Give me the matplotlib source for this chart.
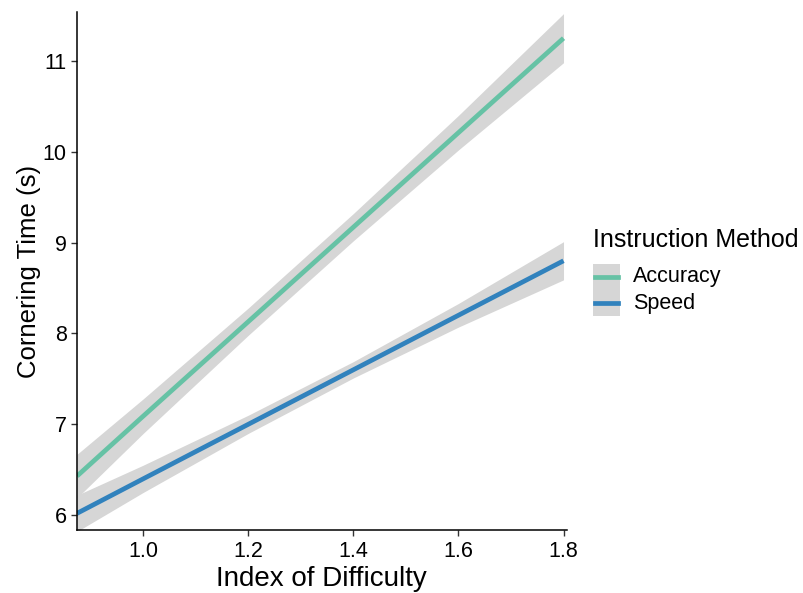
import matplotlib
matplotlib.use("Agg")
import matplotlib.pyplot as plt
from matplotlib.patches import Rectangle
from matplotlib.lines import Line2D

plt.rcParams["font.family"] = ["Liberation Sans", "DejaVu Sans"]

# fitted lines and confidence band
difficulty = [0.874, 1.0, 1.2, 1.4, 1.6, 1.8]
acc_fit = [6.43, 7.09, 8.13, 9.17, 10.21, 11.25]
acc_lo = [6.19, 6.90, 7.98, 9.02, 10.02, 10.98]
acc_hi = [6.67, 7.28, 8.28, 9.32, 10.40, 11.52]
spd_fit = [6.02, 6.40, 7.00, 7.60, 8.20, 8.80]
spd_lo = [5.82, 6.25, 6.90, 7.51, 8.07, 8.59]
spd_hi = [6.22, 6.55, 7.10, 7.69, 8.33, 9.01]
methods = ["Accuracy", "Speed"]
colors = ["#66c2a5", "#3182bd"]
band = "#d6d6d6"

fig = plt.figure(figsize=(8.04, 5.93), dpi=100)
ax = fig.add_axes([0.0958, 0.106, 0.609, 0.874])

for fit, lo, hi, c in [(acc_fit, acc_lo, acc_hi, colors[0]),
                       (spd_fit, spd_lo, spd_hi, colors[1])]:
    ax.fill_between(difficulty, lo, hi, color=band, lw=0, zorder=1)
    ax.plot(difficulty, fit, color=c, lw=3.4, zorder=2, solid_capstyle="butt")

ax.set_xlim(0.874, 1.806)
ax.set_ylim(5.835, 11.54)
ax.set_xticks([1.0, 1.2, 1.4, 1.6, 1.8])
ax.set_xticklabels(["1.0", "1.2", "1.4", "1.6", "1.8"])
ax.set_yticks([6, 7, 8, 9, 10, 11])
ax.tick_params(labelsize=15.5, colors="#333333", length=4, width=1, labelcolor="black")
ax.spines["top"].set_visible(False)
ax.spines["right"].set_visible(False)
for s in ["left", "bottom"]:
    ax.spines[s].set_linewidth(1.1)
ax.set_xlabel("Index of Difficulty", fontsize=20, labelpad=3)
ax.set_ylabel("Cornering Time (s)", fontsize=18.5, labelpad=1)

# legend drawn by hand, ggplot style
fig.text(0.737, 0.596, "Instruction Method", fontsize=18, va="center", ha="left")
ys = [0.533, 0.489]
for y, m, c in zip(ys, methods, colors):
    fig.add_artist(Rectangle((0.7375, y - 0.022), 0.034, 0.044, color=band,
                             transform=fig.transFigure, lw=0))
    fig.add_artist(Line2D([0.740, 0.7685], [y, y], color=c, lw=3.4,
                          transform=fig.transFigure))
    fig.text(0.787, y, m, fontsize=15.5, va="center", ha="left")

fig.savefig("out.png", dpi=100)
